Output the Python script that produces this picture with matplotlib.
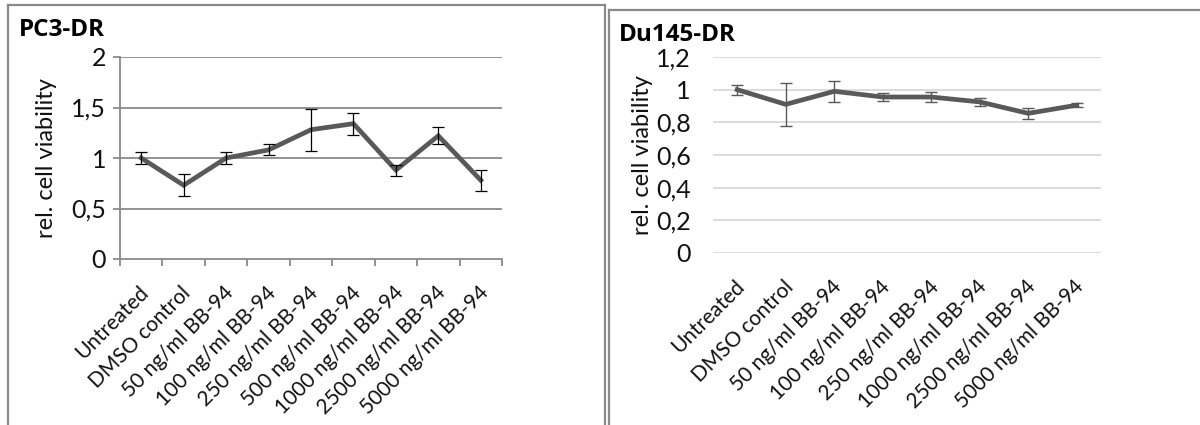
import matplotlib
matplotlib.use("Agg")
import matplotlib.pyplot as plt
from matplotlib.lines import Line2D

plt.rcParams['font.family'] = ['Lato', 'DejaVu Sans']

# PC3-DR data
pc3_labels = ["Untreated", "DMSO control", "50 ng/ml BB-94", "100 ng/ml BB-94",
              "250 ng/ml BB-94", "500 ng/ml BB-94", "1000 ng/ml BB-94",
              "2500 ng/ml BB-94", "5000 ng/ml BB-94"]
pc3_mean = [1.00, 0.73, 1.00, 1.08, 1.28, 1.34, 0.88, 1.22, 0.78]
pc3_err = [0.06, 0.11, 0.055, 0.055, 0.21, 0.11, 0.055, 0.085, 0.105]

# Du145-DR data
du_labels = ["Untreated", "DMSO control", "50 ng/ml BB-94", "100 ng/ml BB-94",
             "250 ng/ml BB-94", "1000 ng/ml BB-94", "2500 ng/ml BB-94",
             "5000 ng/ml BB-94"]
du_mean = [1.00, 0.91, 0.99, 0.955, 0.955, 0.925, 0.855, 0.905]
du_err = [0.03, 0.13, 0.065, 0.027, 0.033, 0.023, 0.035, 0.014]

pc3_yticks = [0, 0.5, 1, 1.5, 2]
du_yticks = [0, 0.2, 0.4, 0.6, 0.8, 1.0, 1.2]

line_col = '#595959'
text_col = '#111111'
title_font = ['Open Sans', 'Liberation Sans', 'DejaVu Sans']

fig = plt.figure(figsize=(12, 4.25), dpi=100)

# panel borders (figure coords)
W, H = 1200, 425
def fx(px):
    return px / W
def fy(py):
    return 1 - py / H
border = '#8a8a8a'
for xs, ys in [([8, 8], [5, 425]), ([8, 605], [5, 5]), ([605, 605], [5, 425]),
               ([609, 609], [10, 425]), ([609, 1200], [10, 10])]:
    fig.add_artist(Line2D([fx(x) for x in xs], [fy(y) for y in ys],
                          color=border, lw=1.6, transform=fig.transFigure))


def fmt(v):
    return ('%g' % v).replace('.', ',')


def label_x(ax, labels):
    for i, lab in enumerate(labels):
        ax.annotate(lab, xy=(i + 0.5, 0), xycoords=('data', 'axes fraction'),
                    xytext=(-2, -17), textcoords='offset points',
                    rotation=45, ha='right', va='top', rotation_mode='anchor',
                    fontsize=15, color=text_col)


# Left chart: PC3-DR
ax1 = fig.add_axes([fx(120), fy(259), fx(502) - fx(120), fy(57) - fy(259)])
x1 = [i + 0.5 for i in range(len(pc3_labels))]
ax1.plot(x1, pc3_mean, color=line_col, lw=3.4, solid_joinstyle='miter', zorder=3)
ax1.errorbar(x1, pc3_mean, yerr=pc3_err, fmt='none', ecolor='black',
             elinewidth=0.9, capsize=4.5, capthick=0.9, zorder=4)
ax1.set_xlim(0, len(pc3_labels))
ax1.set_ylim(0, 2)
ax1.set_yticks(pc3_yticks)
ax1.set_yticklabels([fmt(v) for v in pc3_yticks], fontsize=18, color=text_col)
ax1.set_xticks(range(len(pc3_labels) + 1))
ax1.set_xticklabels([])
for y in pc3_yticks[1:]:
    ax1.axhline(y, color='#8a8a8a', lw=1.3, zorder=1)
for s in ['top', 'right']:
    ax1.spines[s].set_visible(False)
for s in ['left', 'bottom']:
    ax1.spines[s].set_color('#8a8a8a')
    ax1.spines[s].set_linewidth(1.3)
ax1.tick_params(axis='both', which='major', color='#8a8a8a', length=5, width=1.3)
ax1.tick_params(axis='y', pad=5)
ax1.set_ylabel('rel. cell viability', fontsize=17, color=text_col)
ax1.yaxis.set_label_coords(-0.165, 0.5)
label_x(ax1, pc3_labels)
fig.text(fx(19), fy(30), 'PC3-DR', fontsize=17.5, fontweight='bold', va='center',
         ha='left', color='black', family=title_font)

# Right chart: Du145-DR
ax2 = fig.add_axes([fx(713), fy(253), fx(1101) - fx(713), fy(57) - fy(253)])
x2 = [i + 0.5 for i in range(len(du_labels))]
ax2.plot(x2, du_mean, color=line_col, lw=3.4, solid_joinstyle='miter', zorder=3)
ax2.errorbar(x2, du_mean, yerr=du_err, fmt='none', ecolor=line_col,
             elinewidth=1.0, capsize=4.5, capthick=1.0, zorder=4)
ax2.set_xlim(0, len(du_labels))
ax2.set_ylim(0, 1.2)
ax2.set_yticks(du_yticks)
ax2.set_yticklabels([fmt(v) for v in du_yticks], fontsize=18, color=text_col)
ax2.set_xticks([])
for y in du_yticks:
    ax2.axhline(y, color='#d9d9d9', lw=1.3, zorder=1)
for s in ax2.spines.values():
    s.set_visible(False)
ax2.tick_params(axis='y', length=0, pad=16)
ax2.set_ylabel('rel. cell viability', fontsize=17, color=text_col)
ax2.yaxis.set_label_coords(-0.155, 0.5)
label_x(ax2, du_labels)
fig.text(fx(619), fy(35), 'Du145-DR', fontsize=17.5, fontweight='bold', va='center',
         ha='left', color='black', family=title_font)

fig.savefig('out.png', dpi=100)
